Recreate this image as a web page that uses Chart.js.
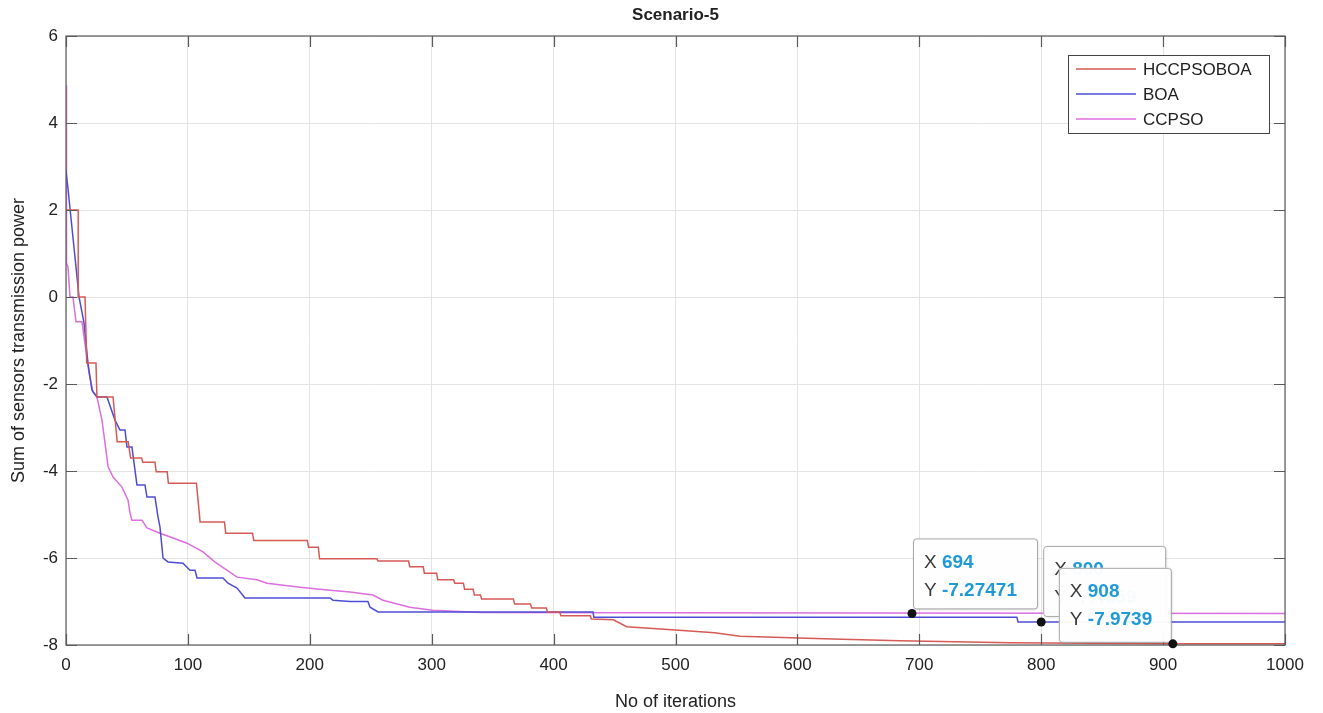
<!DOCTYPE html>
<html>
<head>
<meta charset="utf-8">
<script src="https://cdn.jsdelivr.net/npm/chart.js@4/dist/chart.umd.min.js"></script>
<style>
html,body{margin:0;padding:0;background:#fff;}
#wrap{width:1323px;height:713px;position:relative;}
</style>
</head>
<body>
<div id="wrap"><canvas id="c" width="1323" height="713"></canvas></div>
<script>
// ---- data ----
const titleText = 'Scenario-5';
const xLabel = 'No of iterations';
const yLabel = 'Sum of sensors transmission power';
const seriesNames = ['HCCPSOBOA', 'BOA', 'CCPSO'];

const hccIter = [0,10,10,15.6,17,24.6,25.4,38.6,42,51,53,62,63,73,74,83,84,107,110,130,131,153,154,198,199,207,208,255,256,281,282,293,294,304,305,318,319,326,327,334,335,340,341,367,368,381,382,394,395,405,406,430,431,449,460,497,532,553,629,684,774,908,1000];
const hccVal  = [2,2,0,0,-1.52,-1.52,-2.3,-2.3,-3.33,-3.33,-3.7,-3.7,-3.8,-3.8,-4.02,-4.02,-4.28,-4.28,-5.17,-5.17,-5.43,-5.43,-5.6,-5.6,-5.75,-5.75,-6.02,-6.02,-6.07,-6.07,-6.2,-6.2,-6.35,-6.35,-6.5,-6.5,-6.58,-6.58,-6.72,-6.72,-6.85,-6.85,-6.94,-6.94,-7.06,-7.06,-7.15,-7.15,-7.24,-7.24,-7.33,-7.33,-7.4,-7.42,-7.58,-7.65,-7.72,-7.8,-7.86,-7.9,-7.95,-7.9739,-7.9739];

const boaIter = [0,1.6,10.7,14.8,18,21.3,25.4,33.6,40.2,44.3,48.4,50,54.1,58.2,64.8,66.4,73,75.5,77.1,79.6,83.7,96,101.7,105.8,107.5,128.8,132.9,140.3,146.8,216.6,219,233,247.7,249.4,256,432.3,433,780,781,1000];
const boaVal  = [2.9,2.5,0,-0.6,-1.52,-2.14,-2.3,-2.3,-2.83,-3.06,-3.06,-3.45,-3.45,-4.32,-4.32,-4.6,-4.6,-5.06,-5.29,-6.0,-6.09,-6.12,-6.28,-6.28,-6.46,-6.46,-6.58,-6.69,-6.92,-6.92,-6.97,-7.0,-7.0,-7.13,-7.24,-7.24,-7.36,-7.36,-7.47,-7.47];

const ccIter = [0,0.4,1.6,3.3,5.7,8.2,13.1,18.9,22.1,25.4,29.5,32,34.5,38.6,45.9,50.9,52.5,54.1,62.3,66.4,77.1,87.8,99.3,112.4,122,132,140.3,156.7,164.9,192,216.6,233,251.8,260,282,301,340,1000];
const ccVal  = [4.87,0.78,0.69,0,0,-0.57,-0.57,-1.75,-2.18,-2.3,-2.83,-3.36,-3.9,-4.14,-4.37,-4.67,-4.97,-5.13,-5.13,-5.31,-5.43,-5.54,-5.66,-5.86,-6.09,-6.28,-6.44,-6.5,-6.58,-6.67,-6.74,-6.78,-6.85,-6.97,-7.13,-7.2,-7.25,-7.27471];

const tipX = [694, 800, 908];
const tipY = [-7.27471, -7.47, -7.9739];
const tipXText = ['694', '800', '908'];
const tipYText = ['-7.27471', '-7.4659', '-7.9739'];

const xTicks = [0,100,200,300,400,500,600,700,800,900,1000];
const yTicks = [-8,-6,-4,-2,0,2,4,6];

// ---- build ----
const colors = ['#d65a55', '#4d4dd4', '#dc6ee0'];
function pts(xs, ys){ return xs.map((x,i)=>({x:x, y:ys[i]})); }
const FONT = "'Liberation Sans', Arial, Helvetica, sans-serif";

const decor = {
  id: 'decor',
  afterDatasetsDraw(chart){
    const ctx = chart.ctx, a = chart.chartArea;
    const xs = chart.scales.x, ys = chart.scales.y;
    ctx.save();
    // frame
    ctx.strokeStyle = '#5a5a5a';
    ctx.lineWidth = 1.2;
    ctx.strokeRect(a.left, a.top, a.right - a.left, a.bottom - a.top);
    // inward ticks
    ctx.beginPath();
    xTicks.forEach(v=>{
      const px = Math.round(xs.getPixelForValue(v)) + 0.5;
      ctx.moveTo(px, a.bottom); ctx.lineTo(px, a.bottom - 11);
      ctx.moveTo(px, a.top); ctx.lineTo(px, a.top + 11);
    });
    yTicks.forEach(v=>{
      const py = Math.round(ys.getPixelForValue(v)) + 0.5;
      ctx.moveTo(a.left, py); ctx.lineTo(a.left + 11, py);
      ctx.moveTo(a.right, py); ctx.lineTo(a.right - 11, py);
    });
    ctx.stroke();

    // title
    ctx.fillStyle = '#222';
    ctx.font = "bold 17px " + FONT;
    ctx.textAlign = 'center'; ctx.textBaseline = 'middle';
    ctx.fillText(titleText, (a.left + a.right)/2, 15);

    // legend
    const lx = a.right - 217, ly = a.top + 19, lw = 201, lh = 78;
    ctx.fillStyle = '#fff';
    ctx.fillRect(lx, ly, lw, lh);
    ctx.strokeStyle = '#444'; ctx.lineWidth = 1;
    ctx.strokeRect(lx + 0.5, ly + 0.5, lw, lh);
    ctx.font = "17px " + FONT;
    ctx.textAlign = 'left';
    seriesNames.forEach((n,i)=>{
      const yy = ly + 14 + i*25;
      ctx.strokeStyle = colors[i]; ctx.lineWidth = 1.5;
      ctx.beginPath(); ctx.moveTo(lx + 8, yy); ctx.lineTo(lx + 68, yy); ctx.stroke();
      ctx.fillStyle = '#222';
      ctx.fillText(n, lx + 75, yy + 1);
    });

    // data tips
    const boxes = [
      {dx: 1, dy: -75, w: 124, h: 70},
      {dx: 2, dy: -76, w: 122, h: 70},
      {dx: -114, dy: -76, w: 112, h: 74}
    ];
    tipX.forEach((tx,i)=>{
      const px = xs.getPixelForValue(tx), py = ys.getPixelForValue(tipY[i]);
      const b = boxes[i];
      const bx = px + b.dx, by = py + b.dy;
      ctx.save();
      ctx.shadowColor = 'rgba(0,0,0,0.18)'; ctx.shadowBlur = 3; ctx.shadowOffsetX = 1; ctx.shadowOffsetY = 1;
      ctx.fillStyle = 'rgba(255,255,255,0.97)';
      ctx.beginPath();
      ctx.roundRect(bx, by, b.w, b.h, 3);
      ctx.fill();
      ctx.restore();
      ctx.strokeStyle = '#a8a8a8'; ctx.lineWidth = 1;
      ctx.beginPath(); ctx.roundRect(bx + 0.5, by + 0.5, b.w, b.h, 3); ctx.stroke();
      ctx.textBaseline = 'middle'; ctx.textAlign = 'left';
      ctx.font = "19px " + FONT; ctx.fillStyle = '#3a3a3a';
      ctx.fillText('X', bx + 11, by + 24);
      ctx.fillText('Y', bx + 11, by + 52);
      const xw = ctx.measureText('X ').width, yw = ctx.measureText('Y ').width;
      ctx.font = "bold 19px " + FONT; ctx.fillStyle = '#1f9ad8';
      ctx.fillText(tipXText[i], bx + 11 + xw, by + 24);
      ctx.fillText(tipYText[i], bx + 11 + yw, by + 52);
      // dot
      ctx.fillStyle = '#111';
      ctx.beginPath(); ctx.arc(px, py, 4.5, 0, Math.PI*2); ctx.fill();
    });
    ctx.restore();
  }
};

new Chart(document.getElementById('c'), {
  type: 'line',
  data: {
    datasets: [
      {label: seriesNames[0], data: pts(hccIter, hccVal), borderColor: colors[0]},
      {label: seriesNames[1], data: pts(boaIter, boaVal), borderColor: colors[1]},
      {label: seriesNames[2], data: pts(ccIter, ccVal), borderColor: colors[2]}
    ].map(d=>Object.assign(d, {borderWidth: 1.5, pointRadius: 0, tension: 0, fill: false}))
  },
  options: {
    responsive: false,
    animation: false,
    layout: {padding: {top: 36, right: 38, left: 0, bottom: 0}},
    plugins: {legend: {display: false}, tooltip: {enabled: false}, title: {display: false}},
    scales: {
      x: {
        type: 'linear', min: 0, max: 1000,
        afterBuildTicks: s => { s.ticks = xTicks.map(v=>({value: v})); },
        afterFit: s => { s.height = 68; },
        grid: {color: '#e4e4e4', drawTicks: false},
        border: {display: false},
        ticks: {padding: 10, color: '#222', font: {size: 17, family: FONT}, maxRotation: 0, callback: v => String(v)},
        title: {display: true, text: xLabel, color: '#222', font: {size: 18, family: FONT}, padding: {top: 5, bottom: 0}}
      },
      y: {
        type: 'linear', min: -8, max: 6,
        afterBuildTicks: s => { s.ticks = yTicks.map(v=>({value: v})); },
        afterFit: s => { s.width = 66; },
        grid: {color: '#e4e4e4', drawTicks: false},
        border: {display: false},
        ticks: {padding: 8, color: '#222', font: {size: 17, family: FONT}, callback: v => String(v)},
        title: {display: true, text: yLabel, color: '#222', font: {size: 18, family: FONT}, padding: {top: 8, bottom: 0}}
      }
    }
  },
  plugins: [decor]
});
</script>
</body>
</html>
